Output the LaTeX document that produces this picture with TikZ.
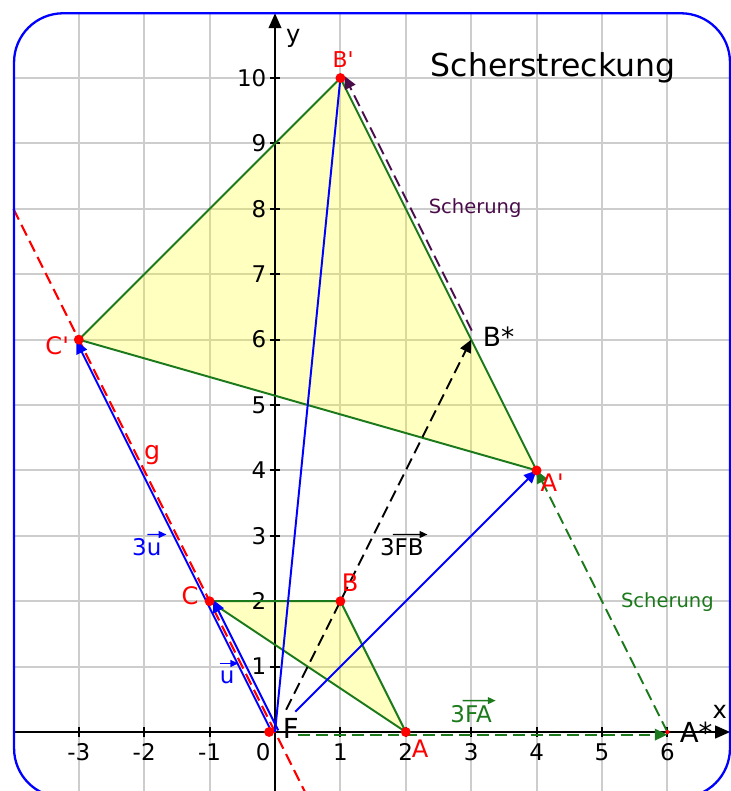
\documentclass[tikz,border=0pt]{standalone}
\usepackage{fontspec}
\setmainfont{DejaVu Sans}[Ligatures=TeXOff]
\usetikzlibrary{arrows.meta, calc}
\definecolor{ggred}{HTML}{FF0000}
\definecolor{ggblue}{HTML}{0000FF}
\definecolor{gggreen}{HTML}{1C7A1C}
\definecolor{ggpurple}{HTML}{4A0C4A}
\definecolor{ggyellow}{HTML}{FFFF00}
\definecolor{gggrid}{HTML}{CDCDCD}

\begin{document}
\begin{tikzpicture}[
  gridline/.style = {draw=gggrid, line width=0.8pt},
  axis/.style     = {line width=0.85pt, -{Triangle[length=6.5pt,width=5.5pt]}},
  tri/.style      = {draw=gggreen, line width=0.85pt, line join=round},
  vecblue/.style  = {draw=ggblue, line width=0.85pt,
                     -{Triangle[length=5.5pt,width=5pt]}},
  dashvec/.style  = {line width=0.85pt, dash pattern=on 5.2pt off 2.6pt,
                     -{Triangle[length=5.5pt,width=5pt]}},
  overarr/.style  = {line width=0.6pt, -{Triangle[length=3.4pt,width=3pt]}},
  dot/.style      = {circle, fill=ggred, inner sep=0pt, minimum size=4.3pt},
  ptlabel/.style  = {text=ggred, font=\fontsize{10.5}{12}\selectfont, inner sep=0pt},
  blklabel/.style = {font=\fontsize{12}{14}\selectfont, inner sep=0pt},
  ticklabel/.style= {font=\fontsize{10}{12}\selectfont, inner sep=1pt},
  veclabel/.style = {font=\fontsize{10}{12}\selectfont, inner sep=0pt}
]
\useasboundingbox (-4.205,-0.902) rectangle (6.972,11.193);

% grid inside the frame
\begin{scope}
  \clip[rounded corners=0.75cm] (-3.99,-1.0) rectangle (6.957,10.99);
  \foreach \x in {-3,...,6} \draw[gridline] (\x,-1.1) -- (\x,11.1);
  \foreach \y in {0,...,10} \draw[gridline] (-4.1,\y) -- (7.1,\y);
\end{scope}

% points
\coordinate (F)  at (0,0);
\coordinate (A)  at (2,0);
\coordinate (B)  at (1,2);
\coordinate (C)  at (-1,2);
\coordinate (Ap) at (4,4);
\coordinate (Bp) at (1,10);
\coordinate (Cp) at (-3,6);
\coordinate (As) at (6,0);
\coordinate (Bs) at (3,6);
\coordinate (g1) at (-4,8);
\coordinate (g2) at (0.5,-1);

\fill[ggyellow, fill opacity=0.25] (A) -- (B) -- (C) -- cycle;
\fill[ggyellow, fill opacity=0.25] (Ap) -- (Bp) -- (Cp) -- cycle;

% axes
\draw[axis] (-3.99,0) -- (6.96,0);
\draw[axis] (0,-0.95) -- (0,10.99);
\foreach \x in {-3,-2,-1,1,2,3,4,5,6} {
  \draw[line width=0.85pt] (\x,-0.07) -- (\x,0.07);
  \node[ticklabel] at (\x,-0.31) {\x};
}
\node[ticklabel] at (-0.18,-0.31) {0};
\foreach \y in {1,...,10} {
  \draw[line width=0.85pt] (-0.08,\y) -- (0.08,\y);
  \node[ticklabel, anchor=east] at (-0.09,\y) {\y};
}
\node[font=\fontsize{10.5}{12}\selectfont] (xl) at (6.80,0.31) {x};
\node[font=\fontsize{10.5}{12}\selectfont] (yl) at (0.28,10.61) {y};

\draw[tri] (A) -- (B) -- (C) -- cycle;
\draw[tri] (Ap) -- (Bp) -- (Cp) -- cycle;

% axis g
\draw[ggred, line width=0.9pt, dash pattern=on 5.2pt off 2.6pt] (g1) -- (g2);

% vectors
\draw[ggblue, line width=0.85pt] (F) -- (Bp);
\draw[vecblue, shorten <=0.44cm] (F) -- (Ap);
\draw[vecblue, transform canvas={shift={(-0.04,-0.02)}}] (F) -- (Cp);
\draw[vecblue, transform canvas={shift={(0.05,0.025)}}] (F) -- (C);
\draw[dashvec, black, shorten <=0.38cm] (F) -- (Bs);
\draw[dashvec, gggreen, shorten <=0.35cm, transform canvas={yshift=-0.04cm}] (F) -- (As);
\draw[dashvec, gggreen] (As) -- (Ap);
\draw[dashvec, ggpurple, shorten <=0.12cm,
      transform canvas={shift={(0.063,0.031)}}] (Bs) -- (Bp);

% red points
\node[dot] (dF) at (-0.09,0) {};
\foreach \p in {A, B, C, Ap, Bp, Cp} \node[dot] (d\p) at (\p) {};
\node[circle, fill=ggred, inner sep=0pt, minimum size=1.8pt] (dAs) at (As) {};

% labels
\node[ptlabel] (lA)  at (2.22,-0.25) {A};
\node[ptlabel] (lB)  at (1.15,2.28)  {B};
\node[ptlabel] (lC)  at (-1.30,2.09) {C};
\node[ptlabel] (lAp) at (4.24,3.81)  {A'};
\node[ptlabel, font=\fontsize{9.5}{11}\selectfont] (lBp) at (1.04,10.29) {B'};
\node[ptlabel] (lCp) at (-3.33,5.90) {C'};
\node[ptlabel, font=\fontsize{11}{13}\selectfont] (lg) at (-1.88,4.24) {g};
\node[blklabel] (lF)  at (0.24,0.06)  {F};
\node[blklabel] (lAs) at (6.44,0.0)   {A*};
\node[blklabel, font=\fontsize{11.5}{13}\selectfont] (lBs) at (3.42,6.04) {B*};

\node[veclabel, text=ggblue]  (l3u)  at (-1.96,2.82) {3u};
\node[veclabel, text=ggblue]  (lu)   at (-0.73,0.84) {u};
\node[veclabel]               (l3FB) at (1.94,2.82)  {3FB};
\node[veclabel, text=gggreen] (l3FA) at (3.00,0.28)  {3FA};
\draw[overarr, ggblue] ($(l3u.north west)!0.52!(l3u.north east)+(0,0.06)$)
  -- ($(l3u.north east)+(0.07,0.06)$);
\draw[overarr, ggblue] ($(lu.north west)+(0,0.1)$) -- ($(lu.north east)+(0.05,0.1)$);
\draw[overarr] ($(l3FB.north west)!0.3!(l3FB.north east)+(0,0.06)$)
  -- ($(l3FB.north east)+(0.05,0.06)$);
\draw[overarr, gggreen] ($(l3FA.north west)!0.3!(l3FA.north east)+(0,0.06)$)
  -- ($(l3FA.north east)+(0.05,0.06)$);

\node[font=\fontsize{8.5}{10}\selectfont, text=gggreen]  (sA) at (6.00,1.99) {Scherung};
\node[font=\fontsize{8.5}{10}\selectfont, text=ggpurple] (sB) at (3.06,8.01) {Scherung};
\node[font=\fontsize{13.7}{16}\selectfont] (title) at (4.25,10.15) {Scherstreckung};

% frame
\draw[ggblue, line width=1pt, rounded corners=0.75cm] (-3.99,-1.0) rectangle (6.957,10.99);
\end{tikzpicture}
\end{document}
